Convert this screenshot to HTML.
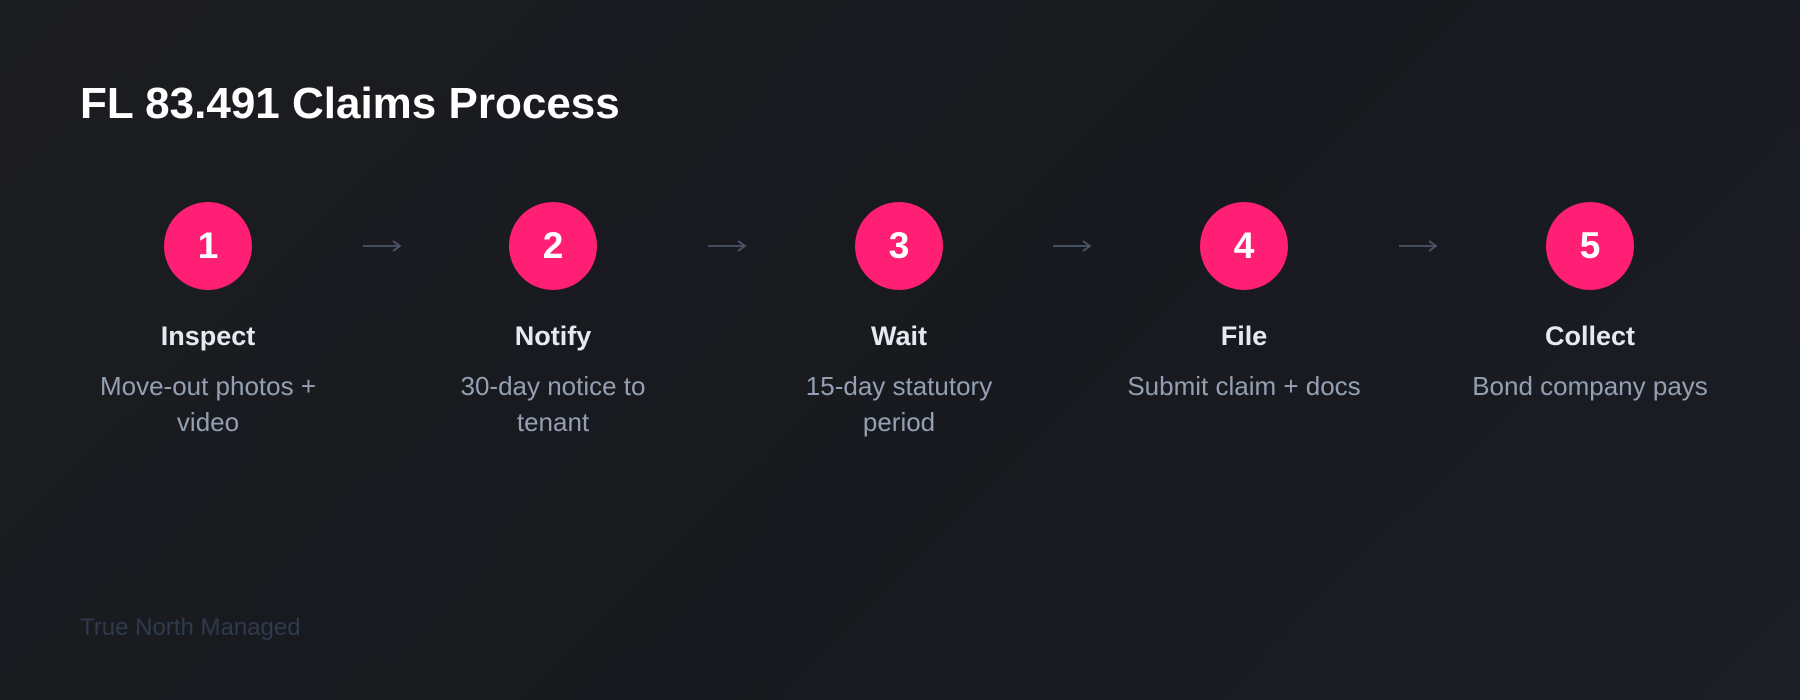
<!DOCTYPE html>
<html><head><style>
html,body{margin:0;padding:0}
body{width:1800px;height:700px;overflow:hidden;background:linear-gradient(135deg,#1c1d21 0%,#17191e 55%,#1b1e25 100%);font-family:"Liberation Sans",Arial,sans-serif;position:relative}
.title{position:absolute;left:80px;top:78px;font-size:44px;font-weight:bold;color:#fff;line-height:52px;white-space:nowrap}
.step{position:absolute;top:202px;width:270px;text-align:center}
.circ{width:88px;height:88px;border-radius:50%;background:#ff1f75;color:#fff;font-weight:bold;font-size:37px;line-height:88px;margin:0 auto}
.lbl{margin-top:30px;font-size:27px;font-weight:bold;color:#e5e9f0;line-height:32px}
.desc{margin:16px auto 0;width:255px;font-size:26px;color:#94a0b2;line-height:36px}
.arr{position:absolute;top:238px;width:40px;height:16px}
.foot{position:absolute;left:80px;top:614px;font-size:24px;color:#2f3a4c;line-height:28px}
</style></head><body>
<div class="title">FL 83.491 Claims Process</div>
<div class="step" style="left:73px"><div class="circ">1</div><div class="lbl">Inspect</div><div class="desc">Move-out photos + video</div></div>
<svg class="arr" style="left:362px" viewBox="0 0 40 16"><path d="M1 8H38M31 3L38 8L31 13" stroke="#4a5568" stroke-width="1.8" fill="none"/></svg>
<div class="step" style="left:418px"><div class="circ">2</div><div class="lbl">Notify</div><div class="desc">30-day notice to tenant</div></div>
<svg class="arr" style="left:707px" viewBox="0 0 40 16"><path d="M1 8H38M31 3L38 8L31 13" stroke="#4a5568" stroke-width="1.8" fill="none"/></svg>
<div class="step" style="left:764px"><div class="circ">3</div><div class="lbl">Wait</div><div class="desc">15-day statutory period</div></div>
<svg class="arr" style="left:1052px" viewBox="0 0 40 16"><path d="M1 8H38M31 3L38 8L31 13" stroke="#4a5568" stroke-width="1.8" fill="none"/></svg>
<div class="step" style="left:1109px"><div class="circ">4</div><div class="lbl">File</div><div class="desc">Submit claim + docs</div></div>
<svg class="arr" style="left:1398px" viewBox="0 0 40 16"><path d="M1 8H38M31 3L38 8L31 13" stroke="#4a5568" stroke-width="1.8" fill="none"/></svg>
<div class="step" style="left:1455px"><div class="circ">5</div><div class="lbl">Collect</div><div class="desc">Bond company pays</div></div>
<div class="foot">True North Managed</div>
</body></html>
